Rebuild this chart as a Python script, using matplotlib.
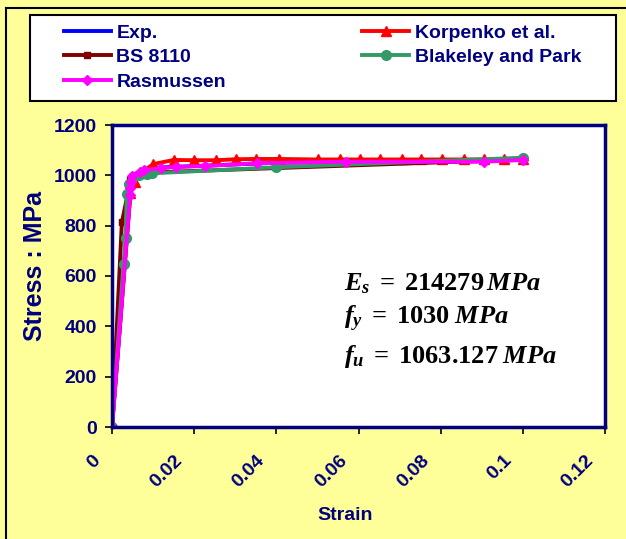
import matplotlib
matplotlib.use('Agg')
import matplotlib.pyplot as plt
import matplotlib.transforms as mtransforms
from matplotlib.lines import Line2D
from matplotlib.patches import Rectangle

plt.rcParams['font.family'] = 'Liberation Sans'
plt.rcParams['font.weight'] = 'bold'
plt.rcParams['mathtext.fontset'] = 'custom'
plt.rcParams['mathtext.rm'] = 'Liberation Serif:bold'
plt.rcParams['mathtext.it'] = 'Liberation Serif:bold:italic'

navy = '#000080'

# stress-strain curves (strain, stress in MPa)
exp_strain = [0, 0.0048, 0.01, 0.04, 0.1]
exp_stress = [0, 1000, 1030, 1050, 1063]

korp_strain = [0, 0.0045, 0.0055, 0.007, 0.0101, 0.015, 0.020, 0.0254, 0.0303,
               0.035, 0.0406, 0.0501, 0.0555, 0.0604, 0.0652, 0.0705, 0.0753,
               0.0803, 0.0856, 0.0905, 0.0953, 0.1]
korp_stress = [0, 930, 975, 1010, 1045, 1061, 1060, 1060, 1064, 1065, 1065,
               1063, 1063, 1063, 1063, 1063, 1063, 1063, 1063, 1063, 1063, 1063]

bs_strain = [0, 0.0024, 0.0045, 0.007, 0.1]
bs_stress = [0, 813, 980, 1010, 1063]

bp_strain = [0, 0.0028, 0.0033, 0.0036, 0.0042, 0.005, 0.0065, 0.0085, 0.0097,
             0.04, 0.1]
bp_stress = [0, 648, 752, 925, 965, 995, 1003, 1004, 1008, 1032, 1070]

ras_strain = [0, 0.0044, 0.0044, 0.0046, 0.0048, 0.0067, 0.0077, 0.0119, 0.0156,
              0.0227, 0.0353, 0.0569, 0.0906, 0.1]
ras_stress = [0, 922, 948, 975, 997, 1015, 1021, 1028, 1034, 1037, 1048, 1054,
              1054, 1061]

xticks = [0, 0.02, 0.04, 0.06, 0.08, 0.1, 0.12]
xtick_labels = ['0', '0.02', '0.04', '0.06', '0.08', '0.1', '0.12']
yticks = [0, 200, 400, 600, 800, 1000, 1200]

W, H = 626, 539
fig = plt.figure(figsize=(W / 100, H / 100), dpi=100, facecolor='#FFFF99')
ax = fig.add_axes([112 / W, 1 - 427 / H, 493 / W, 302 / H])
ax.set_facecolor('white')

lw = 2.8
h_exp, = ax.plot(exp_strain, exp_stress, color='#0000FF', lw=lw, label='Exp.')
h_korp, = ax.plot(korp_strain, korp_stress, color='#FF0000', lw=lw, marker='^',
                  ms=7, label='Korpenko et al.')
h_bs, = ax.plot(bs_strain, bs_stress, color='#800000', lw=lw, marker='s',
                ms=5, label='BS 8110')
h_bp, = ax.plot(bp_strain, bp_stress, color='#339966', lw=lw, marker='o',
                ms=7, label='Blakeley and Park')
h_ras, = ax.plot(ras_strain, ras_stress, color='#FF00FF', lw=lw, marker='D',
                 ms=5, label='Rasmussen')

ax.set_xlim(0, 0.12)
ax.set_ylim(0, 1200)
ax.set_xticks(xticks)
ax.set_xticklabels(xtick_labels, rotation=45, ha='right', va='top',
                   rotation_mode='anchor')
ax.set_yticks(yticks)
ax.tick_params(axis='both', direction='out', length=5, width=1.2, color='black',
               labelsize=14, labelcolor=navy)
ax.tick_params(axis='y', pad=6)
ax.tick_params(axis='x', pad=13)
shift = mtransforms.ScaledTranslation(-20 / 100, 0, fig.dpi_scale_trans)
for lab in ax.get_xticklabels():
    lab.set_transform(lab.get_transform() + shift)
for sp in ax.spines.values():
    sp.set_color(navy)
    sp.set_linewidth(2.5)

fig.text(345 / W, 1 - 515 / H, 'Strain', fontsize=14, color=navy,
         fontweight='bold', ha='center', va='center')
fig.text(35 / W, 1 - 266 / H, 'Stress : MPa', fontsize=18, color=navy,
         fontweight='bold', ha='center', va='center', rotation=90)

ax.text(0.47, 0.474, r'$E_s\;=\;214279\,MPa$', transform=ax.transAxes,
        fontsize=19, color='black', va='center')
ax.text(0.47, 0.358, r'$f_y\;=\;1030\;MPa$', transform=ax.transAxes,
        fontsize=19, color='black', va='center')
ax.text(0.47, 0.235, r'$f_u\;=\;1063.127\;MPa$', transform=ax.transAxes,
        fontsize=19, color='black', va='center')

# legend box drawn separately so the columns can sit where they belong
fig.add_artist(Rectangle((30 / W, 1 - 101 / H), 586 / W, 86 / H,
                         transform=fig.transFigure, facecolor='white',
                         edgecolor='black', lw=1.5, zorder=1))
leg = fig.legend(handles=[h_exp, h_bs, h_ras, h_korp, h_bp], ncol=2,
                 loc='upper left', bbox_to_anchor=(64 / W, 1 - 24 / H),
                 frameon=False, fontsize=14, handlelength=2.4,
                 handletextpad=0.3, labelspacing=0.36, borderpad=0.0,
                 borderaxespad=0.0, columnspacing=7.0, labelcolor=navy)
leg.set_zorder(2)

# outer chart border
fig.add_artist(Line2D([6 / W, 6 / W], [0, 1 - 8 / H], color='black', lw=1.5))
fig.add_artist(Line2D([6 / W, 1], [1 - 8 / H, 1 - 8 / H], color='black', lw=1.5))

fig.savefig('out.png', dpi=100, facecolor=fig.get_facecolor())
